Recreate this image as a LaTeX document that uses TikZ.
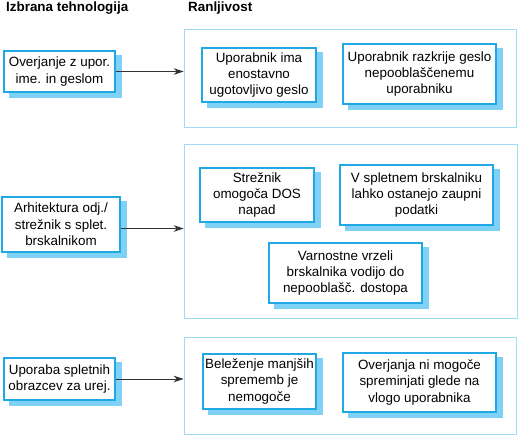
\documentclass[tikz,border=0pt]{standalone}
\usepackage{fontspec}
\setmainfont{Liberation Sans}
\usetikzlibrary{arrows.meta,calc}
\definecolor{bordc}{HTML}{1FA8E4}
\definecolor{shadc}{HTML}{7FD2F5}
\definecolor{groupc}{HTML}{9FDCF6}
\definecolor{arrc}{HTML}{333333}
\newcommand{\fsz}{\fontsize{13.4}{16.3}\selectfont}
\tikzset{
  tbox/.style={draw=bordc, line width=2pt, fill=white, align=center, inner sep=0pt,
    font=\fsz, preaction={draw=shadc, fill=shadc, transform canvas={xshift=5.5pt, yshift=-5pt}}},
  grp/.style={draw=groupc, line width=1.6pt, inner sep=0pt},
  hdr/.style={font=\fsz\bfseries, anchor=base west, inner sep=0pt},
  conn/.style={draw=arrc, line width=0.9pt, -{Stealth[length=10pt,width=6.5pt,inset=3pt]}}
}
\begin{document}
\begin{tikzpicture}[x=1pt,y=-1pt]
\useasboundingbox (0,0) rectangle (520,437);
\node[hdr] (h1) at (6,11) {Izbrana tehnologija};
\node[hdr] (h2) at (188,11) {Ranljivost};
% groups
\node[grp, minimum width=332pt, minimum height=98pt] (g1) at (350.5,78.5) {};
\node[grp, minimum width=333pt, minimum height=174pt] (g2) at (351,231.5) {};
\node[grp, minimum width=332pt, minimum height=97pt] (g3) at (350.5,386) {};
% left boxes
\node[tbox, minimum width=111pt, minimum height=41pt] (l1) at (59.5,71.5) {Overjanje z upor.\\ime. in geslom};
\node[tbox, minimum width=118pt, minimum height=55pt] (l2) at (61,224.5) {Arhitektura odj./\\strežnik s splet.\\brskalnikom};
\node[tbox, minimum width=111pt, minimum height=42pt] (l3) at (59.5,379) {Uporaba spletnih\\obrazcev za urej.};
% inner boxes
\node[tbox, minimum width=114pt, minimum height=54pt] (a1) at (259,75) {Uporabnik ima\\enostavno\\ugotovljivo geslo};
\node[tbox, minimum width=153pt, minimum height=60pt] (b1) at (419.5,74) {Uporabnik razkrije geslo\\nepooblaščenemu\\uporabniku};
\node[tbox, minimum width=114pt, minimum height=54pt] (a2) at (257,195) {Strežnik\\omogoča DOS\\napad};
\node[tbox, minimum width=153pt, minimum height=60pt] (b2) at (416.5,195) {V spletnem brskalniku\\lahko ostanejo zaupni\\podatki};
\node[tbox, minimum width=153pt, minimum height=60pt] (c2) at (345.5,273) {Varnostne vrzeli\\brskalnika vodijo do\\nepooblašč. dostopa};
\node[tbox, minimum width=113pt, minimum height=55pt] (a3) at (259.5,381.5) {Beleženje manjših\\sprememb je\\nemogoče};
\node[tbox, minimum width=153pt, minimum height=59pt] (b3) at (419.5,382.5) {Overjanja ni mogoče\\spreminjati glede na\\vlogo uporabnika};
% connectors
\draw[conn] (l1.east) -- (l1.east -| g1.west);
\coordinate (s2) at ($(l2.east)+(0,4)$);
\draw[conn] (s2) -- (s2 -| g2.west);
\draw[conn] (l3.east) -- (l3.east -| g3.west);
\end{tikzpicture}
\end{document}
